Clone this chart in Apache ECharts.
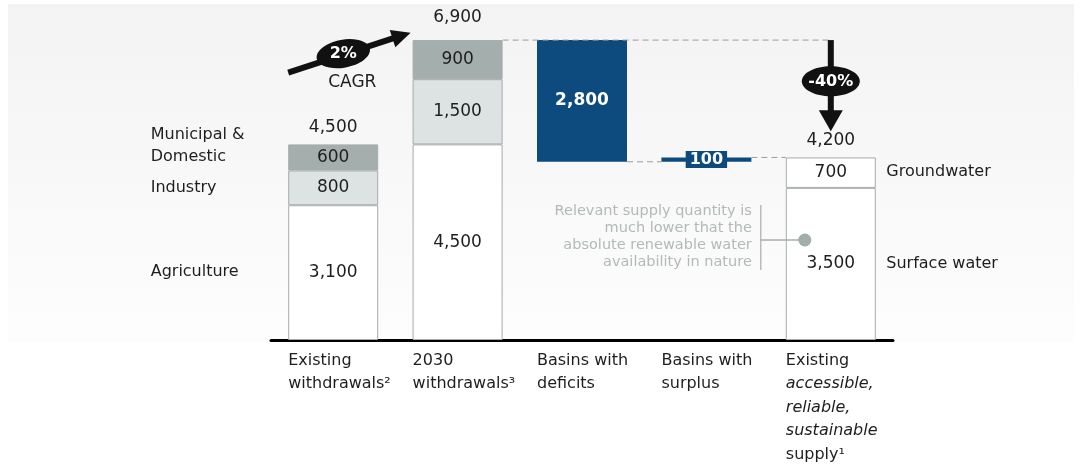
<!DOCTYPE html>
<html><head><meta charset="utf-8">
<script src="https://cdn.jsdelivr.net/npm/echarts@6/dist/echarts.min.js"></script>
<style>html,body{margin:0;padding:0;background:#fff}#c{width:1081px;height:468px}</style>
</head><body><div id="c"></div><script>
// ---------- data ----------
const categories = ['Existing\nwithdrawals²', '2030\nwithdrawals³', 'Basins with\ndeficits', 'Basins with\nsurplus', 'Existing\naccessible,\nreliable,\nsustainable\nsupply¹'];
const italicLines = ['accessible,', 'reliable,', 'sustainable'];
const agriculture = [3100, 4500, null, null, null];
const industry = [800, 1500, null, null, null];
const municipal = [600, 900, null, null, null];
const surfaceWater = [null, null, null, null, 3500];
const groundwater = [null, null, null, null, 700];
const waterfallBase = [null, null, 4100, 4100, null];
const waterfallChange = [null, null, 2800, 100, null];
const totals = [4500, 6900, null, null, 4200];
const withdrawalNames = ['Agriculture', 'Industry', 'Municipal &\nDomestic'];
const supplyNames = ['Surface water', 'Groundwater'];
const cagrValue = '2%';
const cagrText = 'CAGR';
const dropValue = '-40%';
const noteLines = ['Relevant supply quantity is', 'much lower that the', 'absolute renewable water', 'availability in nature'];

// ---------- styles ----------
const FONT = 'DejaVu Sans';
const DARK = '#1e1e1e';
const BORDER = '#a6abab';
const NAVY = '#0d4a7e';
const BAR_W = 90;
const fmt = v => Number(v).toLocaleString('en-US');
const dash = v => (v == null ? '-' : v);

function segSeries(name, data, color) {
  return {
    name, type: 'bar', stack: 's', barWidth: BAR_W, data: data.map(dash),
    itemStyle: { color, borderColor: BORDER, borderWidth: 1 },
    label: { show: true, position: 'inside', color: DARK, fontFamily: FONT, fontSize: 17, formatter: p => fmt(p.value) },
    silent: true
  };
}

// segment mid-points for the side names
const nameItems = [];
let acc = 0;
[agriculture, industry, municipal].forEach((arr, k) => {
  const v = arr[0];
  nameItems.push({
    value: [0, acc + v / 2],
    label: { position: [-182, 0], align: 'left', verticalAlign: 'middle', offset: k === 2 ? [0, -11] : [0, 0] },
    name: withdrawalNames[k]
  });
  acc += v;
});
acc = 0;
[surfaceWater, groundwater].forEach((arr, k) => {
  const v = arr[4];
  nameItems.push({
    value: [4, acc + v / 2],
    label: { position: [56, 0], align: 'left', verticalAlign: 'middle' },
    name: supplyNames[k]
  });
  acc += v;
});

const chart = echarts.init(document.getElementById('c'), null, { renderer: 'canvas' });

const hiddenSymbol = { color: 'rgba(0,0,0,0)', opacity: 1 };

const option = {
  animation: false,
  backgroundColor: '#ffffff',
  graphic: [{
    type: 'rect', z: -1, silent: true,
    shape: { x: 8, y: 4, width: 1066, height: 338 },
    style: { fill: new echarts.graphic.LinearGradient(0, 0, 0, 1, [{ offset: 0, color: '#f3f3f3' }, { offset: 1, color: '#fdfdfd' }]) }
  }],
  grid: { left: 271, right: 188, top: 14, bottom: 128 },
  xAxis: {
    type: 'category', data: categories,
    axisLine: { lineStyle: { color: '#000', width: 3 } },
    axisTick: { show: false },
    axisLabel: {
      interval: 0, margin: 9, align: 'center', width: BAR_W,
      formatter: val => val.split('\n').map(l => '{' + (italicLines.includes(l) ? 'i' : 't') + '|' + l + '}').join('\n'),
      rich: {
        t: { fontFamily: FONT, fontSize: 16, color: DARK, lineHeight: 23.5, align: 'left' },
        i: { fontFamily: FONT, fontSize: 16, color: DARK, lineHeight: 23.5, align: 'left', fontStyle: 'italic' }
      }
    }
  },
  yAxis: { type: 'value', min: 0, max: 7500, show: false, splitLine: { show: false } },
  series: [
    segSeries('Agriculture', agriculture, '#ffffff'),
    segSeries('Industry', industry, '#dde2e2'),
    segSeries('Municipal & Domestic', municipal, '#a4aeac'),
    segSeries('Surface water', surfaceWater, '#ffffff'),
    segSeries('Groundwater', groundwater, '#ffffff'),
    {
      name: 'base', type: 'bar', stack: 's', barWidth: BAR_W, data: waterfallBase.map(dash),
      itemStyle: { color: 'rgba(0,0,0,0)' }, label: { show: false }, silent: true
    },
    {
      name: 'change', type: 'bar', stack: 's', barWidth: BAR_W,
      data: waterfallChange.map((v, i) => v == null ? '-' : {
        value: v,
        label: i === 2
          ? { show: true, position: 'inside', color: '#fff', fontFamily: FONT, fontWeight: 'bold', fontSize: 17, formatter: p => fmt(p.value) }
          : { show: true, position: 'inside', color: '#fff', fontFamily: FONT, fontWeight: 'bold', fontSize: 16, backgroundColor: NAVY, padding: [1, 4, 0, 4], formatter: p => fmt(p.value) }
      }),
      itemStyle: { color: NAVY }, silent: true
    },
    {
      name: 'totals', type: 'scatter', symbolSize: 1, itemStyle: hiddenSymbol,
      data: totals.map((v, i) => v == null ? '-' : { value: v, label: { distance: i === 1 ? 14 : 8 } }),
      label: { show: true, position: 'top', color: DARK, fontFamily: FONT, fontSize: 17, formatter: p => fmt(p.value) },
      silent: true, z: 5
    },
    {
      name: 'names', type: 'scatter', symbolSize: 1, itemStyle: hiddenSymbol,
      data: nameItems,
      label: { show: true, color: DARK, fontFamily: FONT, fontSize: 16, lineHeight: 22, formatter: p => p.name },
      silent: true, z: 5
    },
    {
      name: 'annotations', type: 'custom', z: 10, silent: true, clip: false,
      data: [[0, 0]],
      renderItem: (params, api) => {
        const c = (i, v) => api.coord([i, v]);
        const half = BAR_W / 2;
        const ch = [];
        const dashStyle = { stroke: '#9c9c9c', lineWidth: 1, lineDash: [6, 4], fill: null };
        // connectors
        let a = c(1, totals[1]), b = c(4, totals[1]);
        ch.push({ type: 'line', shape: { x1: a[0] + half, y1: a[1], x2: b[0], y2: b[1] }, style: dashStyle });
        a = c(2, waterfallBase[2]); b = c(3, waterfallBase[3]);
        ch.push({ type: 'line', shape: { x1: a[0] + half, y1: a[1], x2: b[0] - half, y2: b[1] }, style: dashStyle });
        a = c(3, waterfallBase[3] + waterfallChange[3]); b = c(4, totals[4]);
        ch.push({ type: 'line', shape: { x1: a[0] + half, y1: a[1], x2: b[0] - half, y2: b[1] }, style: dashStyle });

        function arrow(p0, p1, headLen, headHalf) {
          const dx = p1[0] - p0[0], dy = p1[1] - p0[1];
          const L = Math.sqrt(dx * dx + dy * dy);
          const ux = dx / L, uy = dy / L, nx = -uy, ny = ux;
          const bx = p1[0] - ux * headLen, by = p1[1] - uy * headLen;
          ch.push({ type: 'line', shape: { x1: p0[0], y1: p0[1], x2: bx + ux * 2, y2: by + uy * 2 }, style: { stroke: '#111', lineWidth: 6 } });
          ch.push({ type: 'polygon', shape: { points: [[p1[0], p1[1]], [bx + nx * headHalf, by + ny * headHalf], [bx - nx * headHalf, by - ny * headHalf]] }, style: { fill: '#111' } });
        }
        // CAGR arrow
        const s0 = c(0, 6150), s1 = c(1, 7070);
        const p0 = [s0[0] - half, s0[1]], p1 = [s1[0] - half - 2, s1[1]];
        arrow(p0, p1, 19, 9);
        const ex = p0[0] + (p1[0] - p0[0]) * 0.45, ey = p0[1] + (p1[1] - p0[1]) * 0.45 - 1;
        ch.push({ type: 'ellipse', x: ex, y: ey, rotation: 0.18, shape: { cx: 0, cy: 0, rx: 27, ry: 14 }, style: { fill: '#111' } });
        ch.push({ type: 'text', x: ex, y: ey, style: { text: cagrValue, fill: '#fff', font: 'bold 16px "DejaVu Sans"', align: 'center', verticalAlign: 'middle' } });
        ch.push({ type: 'text', x: ex + 9, y: ey + 29, style: { text: cagrText, fill: '#1e1e1e', font: '17px "DejaVu Sans"', align: 'center', verticalAlign: 'middle' } });
        // -40% arrow
        const d0 = c(4, totals[1]), d1 = c(4, 4800);
        arrow(d0, d1, 21, 12);
        const dy = c(4, 5950)[1];
        ch.push({ type: 'ellipse', x: d0[0], y: dy, shape: { cx: 0, cy: 0, rx: 29, ry: 15 }, style: { fill: '#111' } });
        ch.push({ type: 'text', x: d0[0], y: dy, style: { text: dropValue, fill: '#fff', font: 'bold 16px "DejaVu Sans"', align: 'center', verticalAlign: 'middle' } });
        // note
        const dp = c(4, 2300);
        const dotX = dp[0] - 26, dotY = dp[1];
        ch.push({ type: 'line', shape: { x1: dotX - 44, y1: dotY - 35, x2: dotX - 44, y2: dotY + 30 }, style: { stroke: '#a7adad', lineWidth: 1.2 } });
        ch.push({ type: 'line', shape: { x1: dotX - 44, y1: dotY, x2: dotX, y2: dotY }, style: { stroke: '#a7adad', lineWidth: 1.5 } });
        ch.push({ type: 'circle', shape: { cx: dotX, cy: dotY, r: 6.5 }, style: { fill: '#a3adab' } });
        ch.push({ type: 'text', x: dotX - 53, y: dotY - 3, style: { text: noteLines.join('\n'), fill: '#b3b9b9', font: '14.5px "DejaVu Sans"', lineHeight: 17, align: 'right', verticalAlign: 'middle' } });
        return { type: 'group', children: ch };
      }
    }
  ]
};
chart.setOption(option);
</script></body></html>
